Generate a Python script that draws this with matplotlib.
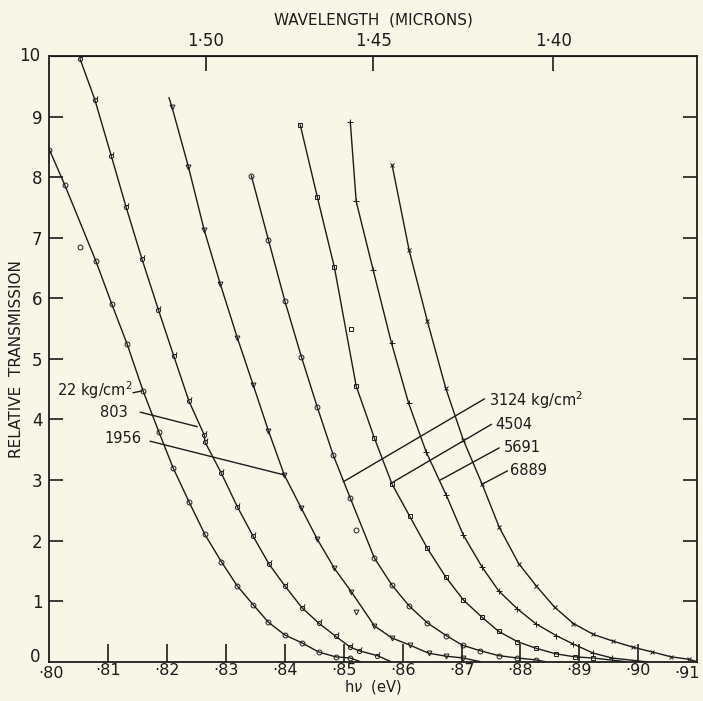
import matplotlib
matplotlib.use("Agg")
import matplotlib.pyplot as plt
from matplotlib.path import Path

plt.rcParams['font.family'] = ['DejaVu Sans']

# photon energy (eV) and relative transmission
e_22 = [0.8000, 0.8026, 0.8079, 0.8106, 0.8132, 0.8159, 0.8186, 0.8210, 0.8237, 0.8264,
        0.8292, 0.8319, 0.8346, 0.8372, 0.8400, 0.8429, 0.8457, 0.8486, 0.8511]
t_22 = [8.45, 7.87, 6.61, 5.90, 5.24, 4.47, 3.79, 3.20, 2.64, 2.10,
        1.65, 1.25, 0.94, 0.65, 0.44, 0.31, 0.16, 0.08, 0.06]

e_803 = [0.8052, 0.8077, 0.8105, 0.8130, 0.8157, 0.8185, 0.8211, 0.8237, 0.8263, 0.8264,
         0.8292, 0.8319, 0.8346, 0.8373, 0.8400, 0.8429, 0.8457, 0.8486, 0.8511, 0.8526, 0.8557]
t_803 = [9.95, 9.28, 8.35, 7.51, 6.65, 5.81, 5.05, 4.30, 3.74, 3.63,
         3.11, 2.56, 2.07, 1.61, 1.25, 0.89, 0.64, 0.42, 0.24, 0.18, 0.10]

e_1956 = [0.8203, 0.8208, 0.8236, 0.8263, 0.8290, 0.8319, 0.8346, 0.8372, 0.8399, 0.8428,
          0.8455, 0.8484, 0.8513, 0.8552, 0.8582, 0.8613, 0.8644, 0.8674, 0.8703]
t_1956 = [9.31, 9.16, 8.17, 7.12, 6.24, 5.35, 4.57, 3.81, 3.08, 2.53,
          2.02, 1.54, 1.15, 0.59, 0.39, 0.27, 0.14, 0.09, 0.06]

e_3124 = [0.8343, 0.8372, 0.8400, 0.8428, 0.8455, 0.8482, 0.8511, 0.8552, 0.8582, 0.8611,
          0.8642, 0.8674, 0.8702, 0.8732, 0.8763, 0.8795, 0.8826]
t_3124 = [8.02, 6.96, 5.95, 5.03, 4.20, 3.41, 2.70, 1.71, 1.26, 0.92,
          0.64, 0.43, 0.27, 0.18, 0.10, 0.06, 0.03]

e_4504 = [0.8426, 0.8455, 0.8484, 0.8521, 0.8552, 0.8582, 0.8612, 0.8642, 0.8673, 0.8703,
          0.8734, 0.8763, 0.8795, 0.8827, 0.8860, 0.8892, 0.8924]
t_4504 = [8.86, 7.67, 6.51, 4.55, 3.69, 2.93, 2.40, 1.87, 1.40, 1.02,
          0.74, 0.50, 0.33, 0.22, 0.13, 0.08, 0.06]

e_5691 = [0.8511, 0.8521, 0.8550, 0.8581, 0.8610, 0.8640, 0.8674, 0.8703, 0.8735, 0.8763,
          0.8795, 0.8827, 0.8861, 0.8890, 0.8924, 0.8956]
t_5691 = [8.91, 7.60, 6.46, 5.26, 4.27, 3.46, 2.75, 2.09, 1.56, 1.17,
          0.87, 0.62, 0.43, 0.29, 0.14, 0.06]

e_6889 = [0.8582, 0.8611, 0.8642, 0.8673, 0.8703, 0.8735, 0.8764, 0.8797, 0.8827, 0.8858,
          0.8890, 0.8924, 0.8957, 0.8991, 0.9024, 0.9056, 0.9086]
t_6889 = [8.20, 6.79, 5.62, 4.52, 3.66, 2.93, 2.22, 1.62, 1.25, 0.90,
          0.63, 0.45, 0.34, 0.24, 0.16, 0.08, 0.04]

# where each drawn line meets the axis
end_e = [0.8528, 0.8580, 0.8732, 0.8842, 0.8979, 0.9012, 0.9100]
# index of first marker on each curve (1956 line starts above its first marker)
first_mark = [0, 0, 1, 0, 0, 0, 0]

# stray points lying off the curves
odd_22 = (0.8052, 6.84)
odd_1956 = (0.8521, 0.82)
odd_3124 = (0.8521, 2.17)
odd_4504 = (0.8513, 5.49)

labels = ["22 kg/cm$^2$", "803", "1956", "3124 kg/cm$^2$", "4504", "5691", "6889"]
# text anchor, leader start, leader end
label_xy = [(0.8013, 4.49), (0.8086, 4.12), (0.8094, 3.69),
            (0.8746, 4.32), (0.8758, 3.92), (0.8771, 3.53), (0.8783, 3.15)]
lead_from = [(0.8142, 4.44), (0.8154, 4.12), (0.8171, 3.64),
             (0.8739, 4.34), (0.8751, 3.92), (0.8764, 3.53), (0.8778, 3.15)]
lead_to = [(0.8157, 4.47), (0.8251, 3.88), (0.8400, 3.08),
           (0.8499, 2.97), (0.8581, 2.95), (0.8664, 3.00), (0.8735, 2.93)]

x_ticks = [0.80, 0.81, 0.82, 0.83, 0.84, 0.85, 0.86, 0.87, 0.88, 0.89, 0.90, 0.91]
x_ticklabels = ["·80", "·81", "·82", "·83", "·84", "·85", "·86", "·87", "·88", "·89", "·90", "·91"]
wl_ticks = [1.50, 1.45, 1.40]
wl_ticklabels = ["1·50", "1·45", "1·40"]

ink = "#1c1c1c"
paper = "#f8f6e6"

circ_tail = Path.make_compound_path(
    Path.unit_circle(),
    Path([(0.7, 0.7), (1.2, 2.0)], [Path.MOVETO, Path.LINETO]))

fig = plt.figure(figsize=(7.03, 7.01), dpi=100, facecolor=paper)
ax = fig.add_axes([0.0704, 0.0561, 0.9211, 0.8640], facecolor=paper)

series = [(e_22, t_22, 'o', 3.5), (e_803, t_803, circ_tail, 6),
          (e_1956, t_1956, 'v', 3.5), (e_3124, t_3124, 'o', 3.5),
          (e_4504, t_4504, 's', 3.5), (e_5691, t_5691, '+', 4.5),
          (e_6889, t_6889, 'x', 3)]

for (ev, tv, mk, ms), ee, f0 in zip(series, end_e, first_mark):
    ax.plot(list(ev) + [ee], list(tv) + [0.0], color=ink, lw=1.0)
    ax.plot(ev[f0:], tv[f0:], ls='none', marker=mk, ms=ms, mfc='none',
            mec=ink, mew=0.7)

for (px, py), mk in zip([odd_22, odd_1956, odd_3124, odd_4504], ['o', 'v', 'o', 's']):
    ax.plot(px, py, ls='none', marker=mk, ms=3.5, mfc='none', mec=ink, mew=0.7)

for lab, (tx, ty), p0, p1 in zip(labels, label_xy, lead_from, lead_to):
    ax.text(tx, ty, lab, ha='left', va='center', fontsize=10.5, color=ink)
    ax.annotate('', xy=p1, xytext=p0,
                arrowprops=dict(arrowstyle='-', lw=1.0, color=ink,
                                shrinkA=0, shrinkB=0))

ax.set_xlim(0.80, 0.91)
ax.set_ylim(0, 10)
ax.set_xticks(x_ticks[1:-1])
ax.set_xticklabels(x_ticklabels[1:-1])
ax.set_yticks(range(1, 10))
ax.tick_params(axis='x', direction='in', length=13, width=1.2, pad=1,
               labelsize=11.5, colors=ink)
ax.tick_params(axis='y', direction='in', length=10, width=1.2, pad=5,
               labelsize=12, colors=ink, right=True)
ax.text(0.8003, -0.07, x_ticklabels[0], ha='center', va='top', fontsize=11.5, color=ink)
ax.text(0.9104, -0.07, x_ticklabels[-1], ha='right', va='top', fontsize=11.5, color=ink)
ax.text(0.7985, 0.08, "0", ha='right', va='center', fontsize=12, color=ink)
ax.text(0.7985, 10.0, "10", ha='right', va='center', fontsize=12, color=ink)
for sp in ax.spines.values():
    sp.set_linewidth(1.3)
    sp.set_color(ink)

top = ax.secondary_xaxis('top', functions=(lambda e: 1.2398 / e, lambda w: 1.2398 / w))
top.set_xticks(wl_ticks)
top.set_xticklabels(wl_ticklabels)
top.tick_params(direction='in', length=11, width=1.2, pad=4, labelsize=12, colors=ink)
top.set_xlabel("WAVELENGTH  (MICRONS)", fontsize=11, color=ink, labelpad=6)

ax.set_ylabel("RELATIVE  TRANSMISSION", fontsize=11, color=ink, labelpad=6)
ax.set_xlabel(r"h$\nu$  (eV)", fontsize=10.5, color=ink, labelpad=0)

fig.savefig("out.png", dpi=100, facecolor=paper)
